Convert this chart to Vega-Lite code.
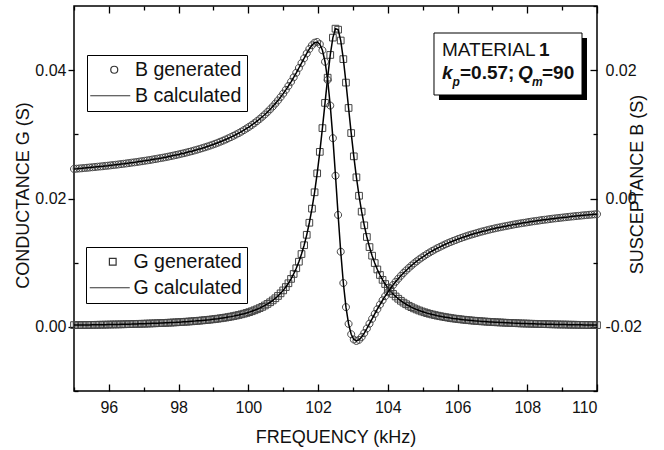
{
  "$schema": "https://vega.github.io/schema/vega-lite/v6.json",
  "width": 523,
  "height": 385,
  "autosize": {"type": "none"},
  "padding": {"left": 74, "top": 6, "right": 67, "bottom": 59},
  "background": "white",
  "config": {
    "view": {"stroke": "#000", "strokeWidth": 1.5},
    "font": "Liberation Sans",
    "axis": {"grid": false, "domain": false, "tickColor": "#000", "tickWidth": 1.3, "labelColor": "#111", "titleColor": "#111", "labelFont": "Liberation Sans", "titleFont": "Liberation Sans", "labelFontSize": 16, "titleFontSize": 18, "titleFontWeight": "normal"}
  },
  "data": {"values": [
    {"f":95,"G":0.00027,"B":0.00461},{"f":95.075,"G":0.00027,"B":0.00464},{"f":95.15,"G":0.00028,"B":0.00468},{"f":95.225,"G":0.00028,"B":0.00471},{"f":95.3,"G":0.00029,"B":0.00475},{"f":95.375,"G":0.00029,"B":0.00479},{"f":95.45,"G":0.00030,"B":0.00483},{"f":95.525,"G":0.00031,"B":0.00487},{"f":95.6,"G":0.00031,"B":0.00491},{"f":95.675,"G":0.00032,"B":0.00495},
    {"f":95.75,"G":0.00033,"B":0.00499},{"f":95.825,"G":0.00033,"B":0.00503},{"f":95.9,"G":0.00034,"B":0.00508},{"f":95.975,"G":0.00035,"B":0.00512},{"f":96.05,"G":0.00036,"B":0.00517},{"f":96.125,"G":0.00037,"B":0.00521},{"f":96.2,"G":0.00037,"B":0.00526},{"f":96.275,"G":0.00038,"B":0.00531},{"f":96.35,"G":0.00039,"B":0.00536},{"f":96.425,"G":0.00040,"B":0.00541},
    {"f":96.5,"G":0.00041,"B":0.00547},{"f":96.575,"G":0.00042,"B":0.00552},{"f":96.65,"G":0.00043,"B":0.00558},{"f":96.725,"G":0.00045,"B":0.00563},{"f":96.8,"G":0.00046,"B":0.00569},{"f":96.875,"G":0.00047,"B":0.00575},{"f":96.95,"G":0.00048,"B":0.00581},{"f":97.025,"G":0.00049,"B":0.00587},{"f":97.1,"G":0.00051,"B":0.00594},{"f":97.175,"G":0.00052,"B":0.00600},
    {"f":97.25,"G":0.00054,"B":0.00607},{"f":97.325,"G":0.00055,"B":0.00614},{"f":97.4,"G":0.00057,"B":0.00621},{"f":97.475,"G":0.00059,"B":0.00629},{"f":97.55,"G":0.00060,"B":0.00636},{"f":97.625,"G":0.00062,"B":0.00644},{"f":97.7,"G":0.00064,"B":0.00652},{"f":97.775,"G":0.00066,"B":0.00661},{"f":97.85,"G":0.00068,"B":0.00669},{"f":97.925,"G":0.00070,"B":0.00678},
    {"f":98,"G":0.00073,"B":0.00687},{"f":98.075,"G":0.00075,"B":0.00697},{"f":98.15,"G":0.00078,"B":0.00706},{"f":98.225,"G":0.00080,"B":0.00716},{"f":98.3,"G":0.00083,"B":0.00727},{"f":98.375,"G":0.00086,"B":0.00737},{"f":98.45,"G":0.00089,"B":0.00749},{"f":98.525,"G":0.00093,"B":0.00760},{"f":98.6,"G":0.00096,"B":0.00772},{"f":98.675,"G":0.00100,"B":0.00784},
    {"f":98.75,"G":0.00104,"B":0.00797},{"f":98.825,"G":0.00108,"B":0.00810},{"f":98.9,"G":0.00112,"B":0.00824},{"f":98.975,"G":0.00117,"B":0.00838},{"f":99.05,"G":0.00122,"B":0.00853},{"f":99.125,"G":0.00127,"B":0.00869},{"f":99.2,"G":0.00133,"B":0.00885},{"f":99.275,"G":0.00139,"B":0.00902},{"f":99.35,"G":0.00145,"B":0.00919},{"f":99.425,"G":0.00152,"B":0.00938},
    {"f":99.5,"G":0.00159,"B":0.00957},{"f":99.575,"G":0.00167,"B":0.00977},{"f":99.65,"G":0.00176,"B":0.00998},{"f":99.725,"G":0.00185,"B":0.01019},{"f":99.8,"G":0.00195,"B":0.01042},{"f":99.875,"G":0.00205,"B":0.01066},{"f":99.95,"G":0.00217,"B":0.01092},{"f":100.025,"G":0.00229,"B":0.01118},{"f":100.1,"G":0.00243,"B":0.01146},{"f":100.175,"G":0.00258,"B":0.01175},
    {"f":100.25,"G":0.00274,"B":0.01206},{"f":100.325,"G":0.00292,"B":0.01239},{"f":100.4,"G":0.00311,"B":0.01274},{"f":100.475,"G":0.00333,"B":0.01310},{"f":100.55,"G":0.00357,"B":0.01349},{"f":100.625,"G":0.00383,"B":0.01390},{"f":100.7,"G":0.00412,"B":0.01433},{"f":100.775,"G":0.00445,"B":0.01479},{"f":100.85,"G":0.00481,"B":0.01528},{"f":100.925,"G":0.00522,"B":0.01580},
    {"f":101,"G":0.00568,"B":0.01635},{"f":101.075,"G":0.00620,"B":0.01693},{"f":101.15,"G":0.00679,"B":0.01754},{"f":101.225,"G":0.00747,"B":0.01819},{"f":101.3,"G":0.00824,"B":0.01888},{"f":101.375,"G":0.00913,"B":0.01959},{"f":101.45,"G":0.01015,"B":0.02034},{"f":101.525,"G":0.01134,"B":0.02110},{"f":101.6,"G":0.01272,"B":0.02186},{"f":101.675,"G":0.01434,"B":0.02261},
    {"f":101.75,"G":0.01622,"B":0.02330},{"f":101.825,"G":0.01842,"B":0.02388},{"f":101.9,"G":0.02097,"B":0.02428},{"f":101.975,"G":0.02392,"B":0.02439},{"f":102.05,"G":0.02727,"B":0.02406},{"f":102.125,"G":0.03097,"B":0.02310},{"f":102.2,"G":0.03490,"B":0.02131},{"f":102.275,"G":0.03883,"B":0.01847},{"f":102.35,"G":0.04237,"B":0.01448},{"f":102.425,"G":0.04507,"B":0.00940},
    {"f":102.5,"G":0.04647,"B":0.00355},{"f":102.575,"G":0.04631,"B":-0.00256},{"f":102.65,"G":0.04462,"B":-0.00829},{"f":102.725,"G":0.04172,"B":-0.01317},{"f":102.8,"G":0.03806,"B":-0.01693},{"f":102.875,"G":0.03411,"B":-0.01954},{"f":102.95,"G":0.03020,"B":-0.02115},{"f":103.025,"G":0.02657,"B":-0.02197},{"f":103.1,"G":0.02330,"B":-0.02220},{"f":103.175,"G":0.02043,"B":-0.02202},
    {"f":103.25,"G":0.01795,"B":-0.02158},{"f":103.325,"G":0.01582,"B":-0.02097},{"f":103.4,"G":0.01400,"B":-0.02026},{"f":103.475,"G":0.01243,"B":-0.01951},{"f":103.55,"G":0.01109,"B":-0.01875},{"f":103.625,"G":0.00994,"B":-0.01799},{"f":103.7,"G":0.00894,"B":-0.01725},{"f":103.775,"G":0.00808,"B":-0.01654},{"f":103.85,"G":0.00732,"B":-0.01586},{"f":103.925,"G":0.00667,"B":-0.01522},
    {"f":104,"G":0.00609,"B":-0.01461},{"f":104.075,"G":0.00558,"B":-0.01403},{"f":104.15,"G":0.00513,"B":-0.01349},{"f":104.225,"G":0.00473,"B":-0.01298},{"f":104.3,"G":0.00438,"B":-0.01250},{"f":104.375,"G":0.00406,"B":-0.01204},{"f":104.45,"G":0.00377,"B":-0.01161},{"f":104.525,"G":0.00352,"B":-0.01121},{"f":104.6,"G":0.00328,"B":-0.01083},{"f":104.675,"G":0.00307,"B":-0.01047},
    {"f":104.75,"G":0.00288,"B":-0.01012},{"f":104.825,"G":0.00271,"B":-0.00980},{"f":104.9,"G":0.00255,"B":-0.00949},{"f":104.975,"G":0.00240,"B":-0.00920},{"f":105.05,"G":0.00227,"B":-0.00893},{"f":105.125,"G":0.00214,"B":-0.00866},{"f":105.2,"G":0.00203,"B":-0.00841},{"f":105.275,"G":0.00193,"B":-0.00818},{"f":105.35,"G":0.00183,"B":-0.00795},{"f":105.425,"G":0.00174,"B":-0.00773},
    {"f":105.5,"G":0.00166,"B":-0.00753},{"f":105.575,"G":0.00158,"B":-0.00733},{"f":105.65,"G":0.00151,"B":-0.00714},{"f":105.725,"G":0.00144,"B":-0.00696},{"f":105.8,"G":0.00137,"B":-0.00678},{"f":105.875,"G":0.00131,"B":-0.00662},{"f":105.95,"G":0.00126,"B":-0.00646},{"f":106.025,"G":0.00121,"B":-0.00630},{"f":106.1,"G":0.00116,"B":-0.00616},{"f":106.175,"G":0.00111,"B":-0.00601},
    {"f":106.25,"G":0.00107,"B":-0.00588},{"f":106.325,"G":0.00103,"B":-0.00574},{"f":106.4,"G":0.00099,"B":-0.00562},{"f":106.475,"G":0.00095,"B":-0.00550},{"f":106.55,"G":0.00092,"B":-0.00538},{"f":106.625,"G":0.00089,"B":-0.00526},{"f":106.7,"G":0.00085,"B":-0.00515},{"f":106.775,"G":0.00083,"B":-0.00505},{"f":106.85,"G":0.00080,"B":-0.00494},{"f":106.925,"G":0.00077,"B":-0.00484},
    {"f":107,"G":0.00075,"B":-0.00475},{"f":107.075,"G":0.00072,"B":-0.00465},{"f":107.15,"G":0.00070,"B":-0.00456},{"f":107.225,"G":0.00068,"B":-0.00448},{"f":107.3,"G":0.00066,"B":-0.00439},{"f":107.375,"G":0.00064,"B":-0.00431},{"f":107.45,"G":0.00062,"B":-0.00423},{"f":107.525,"G":0.00060,"B":-0.00415},{"f":107.6,"G":0.00058,"B":-0.00407},{"f":107.675,"G":0.00057,"B":-0.00400},
    {"f":107.75,"G":0.00055,"B":-0.00393},{"f":107.825,"G":0.00053,"B":-0.00386},{"f":107.9,"G":0.00052,"B":-0.00379},{"f":107.975,"G":0.00051,"B":-0.00373},{"f":108.05,"G":0.00049,"B":-0.00366},{"f":108.125,"G":0.00048,"B":-0.00360},{"f":108.2,"G":0.00047,"B":-0.00354},{"f":108.275,"G":0.00045,"B":-0.00348},{"f":108.35,"G":0.00044,"B":-0.00342},{"f":108.425,"G":0.00043,"B":-0.00336},
    {"f":108.5,"G":0.00042,"B":-0.00331},{"f":108.575,"G":0.00041,"B":-0.00326},{"f":108.65,"G":0.00040,"B":-0.00320},{"f":108.725,"G":0.00039,"B":-0.00315},{"f":108.8,"G":0.00038,"B":-0.00310},{"f":108.875,"G":0.00037,"B":-0.00305},{"f":108.95,"G":0.00036,"B":-0.00301},{"f":109.025,"G":0.00036,"B":-0.00296},{"f":109.1,"G":0.00035,"B":-0.00291},{"f":109.175,"G":0.00034,"B":-0.00287},
    {"f":109.25,"G":0.00033,"B":-0.00282},{"f":109.325,"G":0.00033,"B":-0.00278},{"f":109.4,"G":0.00032,"B":-0.00274},{"f":109.475,"G":0.00031,"B":-0.00270},{"f":109.55,"G":0.00031,"B":-0.00266},{"f":109.625,"G":0.00030,"B":-0.00262},{"f":109.7,"G":0.00029,"B":-0.00258},{"f":109.775,"G":0.00029,"B":-0.00254},{"f":109.85,"G":0.00028,"B":-0.00251},{"f":109.925,"G":0.00028,"B":-0.00247},
    {"f":110,"G":0.00027,"B":-0.00244}
  ]},
  "layer": [
    {
      "layer": [
        {
          "mark": {"type": "point", "filled": false, "size": 100, "strokeWidth": 1, "color": "#444", "opacity": 1},
          "encoding": {
            "x": {"field": "f", "type": "quantitative", "scale": {"domain": [95, 110], "nice": false, "zero": false},
                  "axis": {"orient": "bottom", "values": [96, 98, 100, 102, 104, 106, 108, 110], "tickSize": -7, "labelPadding": 15, "title": "FREQUENCY (kHz)", "titleBaseline": "alphabetic", "titleY": 51}},
            "y": {"field": "G", "type": "quantitative", "scale": {"domain": [-0.01, 0.05], "nice": false, "zero": false},
                  "axis": {"orient": "left", "values": [0, 0.02, 0.04], "format": ".2f", "tickSize": 6, "labelPadding": 2, "title": "CONDUCTANCE G (S)", "titleAngle": 270, "titleX": -51, "titleY": 189, "titleAlign": "center", "titleBaseline": "middle"}},
            "shape": {"datum": "G generated", "type": "nominal",
                      "scale": {"domain": ["G generated", "G calculated"], "range": ["M-0.67,-0.67H0.67V0.67H-0.67Z", "M-4.6,0H3.4"]},
                      "legend": {"orient": "none", "legendX": 12, "legendY": 241, "title": null, "padding": 5, "rowPadding": 5, "strokeColor": "#000", "fillColor": "#fff", "symbolSize": 100, "symbolOffset": 12, "labelOffset": 11, "labelFontSize": 19.5, "labelFont": "Liberation Sans", "labelColor": "#111", "symbolStrokeColor": "#333", "symbolStrokeWidth": 1.2, "labelLimit": 400}}
          }
        },
        {
          "mark": {"type": "line", "color": "#000", "strokeWidth": 1.5},
          "encoding": {
            "x": {"field": "f", "type": "quantitative"},
            "y": {"field": "G", "type": "quantitative"}
          }
        }
      ]
    },
    {
      "layer": [
        {
          "mark": {"type": "point", "filled": false, "size": 100, "strokeWidth": 1, "color": "#444", "opacity": 1},
          "encoding": {
            "x": {"field": "f", "type": "quantitative",
                  "axis": {"orient": "top", "values": [96, 98, 100, 102, 104, 106, 108, 110], "tickSize": -7, "labels": false, "title": null}},
            "y": {"field": "B", "type": "quantitative", "scale": {"domain": [-0.03, 0.03], "nice": false, "zero": false},
                  "axis": {"orient": "right", "values": [-0.02, 0, 0.02], "labelExpr": "datum.value < 0 ? '-' + format(-datum.value, '.2f') : format(datum.value, '.2f')", "tickSize": -7, "labelPadding": 15, "title": "SUSCEPTANCE B (S)", "titleAngle": 270, "titleX": 40, "titleY": 178, "titleAlign": "center", "titleBaseline": "middle"}},
            "shape": {"datum": "B generated", "type": "nominal",
                      "scale": {"domain": ["B generated", "B calculated"], "range": ["M0.7,0A0.7,0.7,0,1,1,-0.7,0A0.7,0.7,0,1,1,0.7,0Z", "M-4.8,0H3.2"]},
                      "legend": {"orient": "none", "legendX": 13, "legendY": 49, "title": null, "padding": 5, "rowPadding": 5, "strokeColor": "#000", "fillColor": "#fff", "symbolSize": 100, "symbolOffset": 12.5, "labelOffset": 11, "labelFontSize": 19.5, "labelFont": "Liberation Sans", "labelColor": "#111", "symbolStrokeColor": "#333", "symbolStrokeWidth": 1.2, "labelLimit": 400}}
          }
        },
        {
          "mark": {"type": "line", "color": "#000", "strokeWidth": 1.5},
          "encoding": {
            "x": {"field": "f", "type": "quantitative"},
            "y": {"field": "B", "type": "quantitative"}
          }
        }
      ]
    },
    {
      "data": {"values": [{}]},
      "layer": [
        {
          "mark": {"type": "rect", "fill": "#000"},
          "encoding": {
            "x": {"datum": 105.468, "type": "quantitative", "axis": {"orient": "bottom", "values": [95, 97, 99, 101, 103, 105, 107, 109], "tickSize": -4, "labels": false, "title": null}},
            "x2": {"datum": 109.713},
            "y": {"datum": 0.04501, "type": "quantitative", "scale": {"domain": [-0.01, 0.05], "nice": false, "zero": false}, "axis": {"orient": "left", "values": [-0.01, 0.01, 0.03], "tickSize": -4, "labels": false, "title": null}},
            "y2": {"datum": 0.03535}
          }
        },
        {
          "mark": {"type": "rect", "fill": "#fff", "stroke": "#000", "strokeWidth": 1},
          "encoding": {
            "x": {"datum": 105.325, "type": "quantitative"},
            "x2": {"datum": 109.57},
            "y": {"datum": 0.04579, "type": "quantitative"},
            "y2": {"datum": 0.03613}
          }
        },
        {
          "mark": {"type": "text", "text": "MATERIAL", "font": "Liberation Sans", "fontSize": 19, "align": "left", "baseline": "alphabetic", "color": "#111"},
          "encoding": {"x": {"datum": 105.554, "type": "quantitative"}, "y": {"datum": 0.04221, "type": "quantitative"}}
        },
        {
          "mark": {"type": "text", "text": "1", "font": "Liberation Sans", "fontSize": 19, "fontWeight": "bold", "align": "left", "baseline": "alphabetic", "color": "#111", "dx": 97},
          "encoding": {"x": {"datum": 105.554, "type": "quantitative"}, "y": {"datum": 0.04221, "type": "quantitative"}}
        },
        {
          "mark": {"type": "text", "text": "k", "font": "Liberation Sans", "fontSize": 19, "fontWeight": "bold", "fontStyle": "italic", "align": "left", "baseline": "alphabetic", "color": "#111"},
          "encoding": {"x": {"datum": 105.554, "type": "quantitative"}, "y": {"datum": 0.03862, "type": "quantitative"}}
        },
        {
          "mark": {"type": "text", "text": "p", "font": "Liberation Sans", "fontSize": 12, "fontWeight": "bold", "fontStyle": "italic", "align": "left", "baseline": "alphabetic", "color": "#111", "dx": 10.5, "dy": 7},
          "encoding": {"x": {"datum": 105.554, "type": "quantitative"}, "y": {"datum": 0.03862, "type": "quantitative"}}
        },
        {
          "mark": {"type": "text", "text": "=0.57;", "font": "Liberation Sans", "fontSize": 19, "fontWeight": "bold", "align": "left", "baseline": "alphabetic", "color": "#111", "dx": 18},
          "encoding": {"x": {"datum": 105.554, "type": "quantitative"}, "y": {"datum": 0.03862, "type": "quantitative"}}
        },
        {
          "mark": {"type": "text", "text": "Q", "font": "Liberation Sans", "fontSize": 19, "fontWeight": "bold", "fontStyle": "italic", "align": "left", "baseline": "alphabetic", "color": "#111", "dx": 76},
          "encoding": {"x": {"datum": 105.554, "type": "quantitative"}, "y": {"datum": 0.03862, "type": "quantitative"}}
        },
        {
          "mark": {"type": "text", "text": "m", "font": "Liberation Sans", "fontSize": 12, "fontWeight": "bold", "fontStyle": "italic", "align": "left", "baseline": "alphabetic", "color": "#111", "dx": 90, "dy": 7},
          "encoding": {"x": {"datum": 105.554, "type": "quantitative"}, "y": {"datum": 0.03862, "type": "quantitative"}}
        },
        {
          "mark": {"type": "text", "text": "=90", "font": "Liberation Sans", "fontSize": 19, "fontWeight": "bold", "align": "left", "baseline": "alphabetic", "color": "#111", "dx": 100},
          "encoding": {"x": {"datum": 105.554, "type": "quantitative"}, "y": {"datum": 0.03862, "type": "quantitative"}}
        }
      ]
    },
    {
      "data": {"values": [{}]},
      "mark": {"type": "point", "opacity": 0},
      "encoding": {
        "x": {"datum": 100, "type": "quantitative", "axis": {"orient": "top", "values": [95, 97, 99, 101, 103, 105, 107, 109], "tickSize": -4, "labels": false, "title": null}},
        "y": {"datum": 0, "type": "quantitative", "scale": {"domain": [-0.03, 0.03], "nice": false, "zero": false}, "axis": {"orient": "right", "values": [-0.03, -0.01, 0.01, 0.03], "tickSize": -4, "labels": false, "title": null}}
      }
    }
  ],
  "resolve": {
    "scale": {"y": "independent", "shape": "independent"},
    "axis": {"x": "independent", "y": "independent"},
    "legend": {"shape": "independent"}
  }
}
